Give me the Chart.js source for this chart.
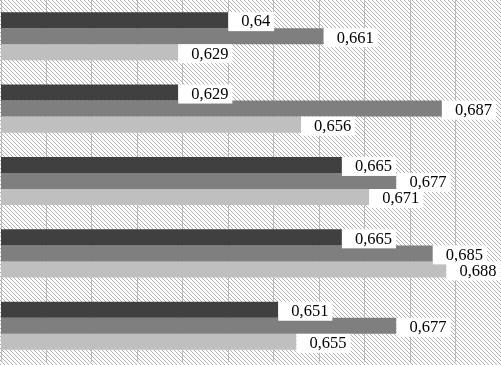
<!DOCTYPE html>
<html>
<head>
<meta charset="utf-8">
<script src="https://cdn.jsdelivr.net/npm/chart.js@4.4.1/dist/chart.umd.min.js"></script>
<style>
html,body{margin:0;padding:0;background:#fff}
#wrap{width:501px;height:365px}
</style>
</head>
<body>
<div id="wrap"><canvas id="chart"></canvas></div>
<script>

// groups from top to bottom, three series each
const groups = ["1","2","3","4","5"]
const seriesA = [0.640, 0.629, 0.665, 0.665, 0.651]
const seriesB = [0.661, 0.687, 0.677, 0.685, 0.677]
const seriesC = [0.629, 0.656, 0.671, 0.688, 0.655]
const colors = ["#404040", "#7f7f7f", "#bfbfbf"]
const axisMin = 0.59
const axisMax = 0.70
const axisStep = 0.01


function hatch(){
let c=document.createElement("canvas")
c.width=4
c.height=4
let g=c.getContext("2d")
g.fillStyle="#fff"
g.fillRect(0,0,4,4)
g.strokeStyle="#b0b0b0"
g.lineWidth=1
g.beginPath()
g.moveTo(-1,-1)
g.lineTo(5,5)
g.moveTo(-1,3)
g.lineTo(1,5)
g.moveTo(3,-1)
g.lineTo(5,1)
g.stroke()
return c
}


const bgPlugin={
id:"bg",
beforeDraw(chart){
let ctx=chart.ctx
ctx.save()
ctx.fillStyle=ctx.createPattern(hatch(),"repeat")
ctx.fillRect(0,0,chart.width,chart.height)
ctx.restore()
}
}


const labelPlugin={
id:"valLabels",
afterDatasetsDraw(chart){
let ctx=chart.ctx
ctx.save()
ctx.font="16.5px 'Liberation Serif'"
ctx.textBaseline="middle"
chart.data.datasets.forEach((ds,i)=>{
let meta=chart.getDatasetMeta(i)
meta.data.forEach((bar,j)=>{
let txt=String(ds.data[j]).replace(".",",")
let w=ctx.measureText(txt).width
let x=bar.x
let y=bar.y
ctx.fillStyle="#fff"
ctx.fillRect(x,y-8,w+17,19)
ctx.fillStyle="#000"
ctx.fillText(txt,x+13,y+2)
})
})
ctx.restore()
}
}


let chart=new Chart(document.getElementById("chart"),{

type:"bar",

data:{
labels:groups,
datasets:[
{data:seriesA,backgroundColor:colors[0]},
{data:seriesB,backgroundColor:colors[1]},
{data:seriesC,backgroundColor:colors[2]}
]
},

options:{
indexAxis:"y",
responsive:true,
maintainAspectRatio:false,
animation:false,
layout:{padding:{top:0,left:1,right:0,bottom:3}},
datasets:{bar:{categoryPercentage:0.665,barPercentage:1.0}},
plugins:{
legend:{display:false},
tooltip:{enabled:false}
},
scales:{
x:{
min:axisMin,
max:axisMax,
ticks:{display:false,stepSize:axisStep},
grid:{color:"#b8b8b8",lineWidth:1,drawTicks:false},
border:{display:false}
},
y:{
ticks:{display:false},
grid:{display:false,drawTicks:false},
border:{display:false}
}
}
},

plugins:[bgPlugin,labelPlugin]

})

</script>
</body>
</html>
